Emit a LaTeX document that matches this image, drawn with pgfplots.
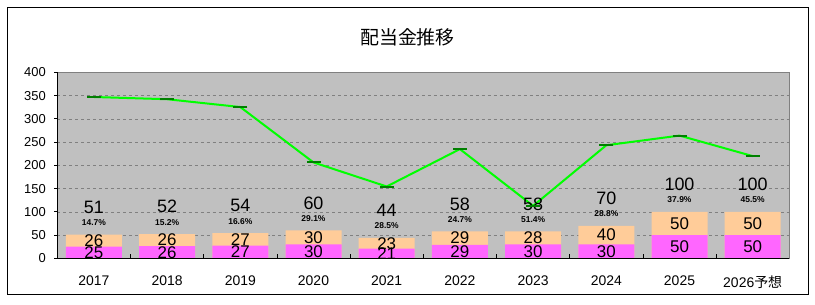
\documentclass[border=0pt]{standalone}
\usepackage{pgfplots}
\pgfplotsset{compat=1.18}
\usepackage{pgfplotstable}
\usepackage{fontspec}
\setmainfont{Liberation Sans}
\newfontfamily\cjk{Noto Sans CJK JP}
\definecolor{plotbg}{RGB}{192,192,192}
\definecolor{gridgray}{RGB}{128,128,128}
\definecolor{interim}{RGB}{255,102,255}
\definecolor{yearend}{RGB}{255,204,153}
\definecolor{epsline}{RGB}{0,255,0}
\definecolor{epsmark}{RGB}{0,128,0}
\pgfplotstableread{
x a b total pct eps
0 25 26 51 14.7 346.9
1 26 26 52 15.2 342.1
2 27 27 54 16.6 325.3
3 30 30 60 29.1 206.2
4 21 23 44 28.5 154.4
5 29 29 58 24.7 234.8
6 30 28 58 51.4 112.8
7 30 40 70 28.8 243.1
8 50 50 100 37.9 263.9
9 50 50 100 45.5 219.8
}\divdata
\begin{document}
\begin{tikzpicture}
\path[use as bounding box] (0,0) rectangle (815bp,305bp);
\fill[white] (0,0) rectangle (815bp,305bp);
\draw[black, line width=1bp] (7.3bp,10bp) rectangle (808bp,297bp);
\node[font=\cjk\fontsize{19}{22}\selectfont] at (407.5bp,268bp) {配当金推移};
\begin{axis}[
  at={(57.3bp,46.7bp)}, anchor=south west,
  scale only axis, width=732bp, height=186bp,
  xmin=-0.5, xmax=9.5, ymin=0, ymax=400,
  clip=false,
  /pgf/number format/assume math mode=true,
  axis background/.style={fill=plotbg},
  axis line style={draw=gridgray, line width=1bp},
  ytick={0,50,...,400},
  ytick pos=left, xtick pos=bottom,
  ymajorgrids,
  grid style={dashed, draw=gridgray, line width=0.6bp},
  y tick style={black, line width=0.8bp},
  tick align=outside,
  major tick length=3bp,
  yticklabel style={font=\fontsize{13}{15}\selectfont, xshift=-5bp},
  xtick={0,...,9},
  xticklabels={2017,2018,2019,2020,2021,2022,2023,2024,2025,{2026{\cjk 予想}}},
  xticklabel style={font=\fontsize{14}{16}\selectfont, yshift=-11bp},
  x tick style={draw=none},
  extra x ticks={0.5,1.5,...,8.5},
  extra x tick labels={},
  extra x tick style={grid=none, tick align=inside, major tick length=4bp, x tick style={draw=black, line width=0.8bp}},
]
\addplot[ybar, bar width=56bp, bar shift=0pt, fill=yearend, draw=none] table[x=x, y=total] {\divdata};
\addplot[ybar, bar width=56bp, bar shift=0pt, fill=interim, draw=none] table[x=x, y=a] {\divdata};
\addplot[draw=none, nodes near coords, point meta=\thisrow{a},
  every node near coord/.style={anchor=center, font=\fontsize{17}{19}\selectfont, text=black}]
  table[x=x, y expr=\thisrow{a}/2] {\divdata};
\addplot[draw=none, nodes near coords, point meta=\thisrow{b},
  every node near coord/.style={anchor=center, font=\fontsize{17}{19}\selectfont, text=black}]
  table[x=x, y expr=\thisrow{a}+\thisrow{b}/2] {\divdata};
\addplot[draw=none, nodes near coords, point meta=\thisrow{total},
  every node near coord/.style={anchor=center, yshift=27.5bp, font=\fontsize{18}{20}\selectfont, text=black}]
  table[x=x, y=total] {\divdata};
\addplot[draw=none, nodes near coords={\pgfmathprintnumber[fixed, precision=1, fixed zerofill]{\pgfplotspointmeta}\%}, point meta=\thisrow{pct},
  every node near coord/.style={anchor=center, yshift=12bp, font=\bfseries\fontsize{8.5}{10}\selectfont, text=black}]
  table[x=x, y=total] {\divdata};
\addplot[color=epsline, line width=2bp, mark=-, mark size=7bp,
  mark options={draw=epsmark, line width=2bp}] table[x=x, y=eps] {\divdata};
\draw[black, line width=1bp] (rel axis cs:0,1) -- (rel axis cs:0,0) -- (rel axis cs:1,0);
\end{axis}
\end{tikzpicture}
\end{document}
